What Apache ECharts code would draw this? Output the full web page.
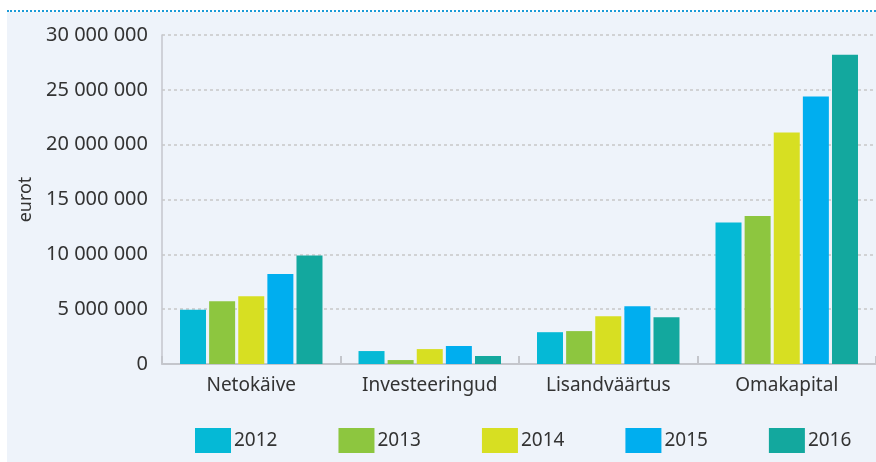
<!DOCTYPE html>
<html>
<head>
<meta charset="utf-8">
<script src="https://cdn.jsdelivr.net/npm/echarts@6/dist/echarts.min.js"></script>
<style>
  html, body { margin: 0; padding: 0; background: #fff; }
  #wrap { position: relative; width: 876px; height: 462px; overflow: hidden; }
  #panel { position: absolute; left: 7px; top: 12px; right: 0; bottom: 0; background: #eef3fa; }
  #dots { position: absolute; left: 7px; top: 10px; right: 0; height: 0; border-top: 2px dotted #1b9bd7; }
  #main { position: absolute; left: 0; top: 0; width: 876px; height: 462px; }
</style>
</head>
<body>
<div id="wrap">
  <div id="panel"></div>
  <div id="dots"></div>
  <div id="main"></div>
</div>
<script>
// andmed
var categories = ['Netokäive', 'Investeeringud', 'Lisandväärtus', 'Omakapital'];
var years = ['2012', '2013', '2014', '2015', '2016'];
var v2012 = [4940000, 1180000, 2900000, 12900000];
var v2013 = [5730000, 360000, 3000000, 13500000];
var v2014 = [6180000, 1360000, 4360000, 21100000];
var v2015 = [8200000, 1640000, 5270000, 24400000];
var v2016 = [9900000, 730000, 4270000, 28200000];
var colors = ['#05b9d6', '#8dc63f', '#d7df22', '#00aeef', '#13a89e'];

var values = [v2012, v2013, v2014, v2015, v2016];
var font = '"Noto Sans", sans-serif';

function spaced(n) {
  return String(n).replace(/\B(?=(\d{3})+(?!\d))/g, ' ');
}

var myChart = echarts.init(document.getElementById('main'));
var series = years.map(function (y, i) {
  return {
    name: y,
    type: 'bar',
    barWidth: 26,
    barGap: '12%',
    itemStyle: { color: colors[i] },
    data: values[i]
  };
});

var option = {
  backgroundColor: 'transparent',
  animation: false,
  color: colors,
  grid: { left: 162, right: 0, top: 35, bottom: 98 },
  legend: {
    data: years,
    top: 423,
    left: 190,
    itemWidth: 36,
    itemHeight: 25,
    itemGap: 61,
    icon: 'rect',
    textStyle: { fontFamily: font, fontSize: 19, color: '#333', padding: [0, 0, 0, -2] }
  },
  xAxis: {
    type: 'category',
    data: categories,
    axisLine: { lineStyle: { color: '#c4c6cc', width: 2 } },
    axisTick: { show: true, inside: true, length: 8, lineStyle: { color: '#c4c6cc', width: 2 } },
    axisLabel: { margin: 12, fontFamily: font, fontSize: 19, color: '#333' }
  },
  yAxis: {
    type: 'value',
    name: 'eurot',
    nameLocation: 'middle',
    nameGap: 124,
    nameTextStyle: { fontFamily: font, fontSize: 18, color: '#333' },
    min: 0,
    max: 30000000,
    interval: 5000000,
    axisLine: { show: true, lineStyle: { color: '#c4c6cc', width: 1.5 } },
    axisTick: { show: false },
    axisLabel: {
      margin: 14,
      fontFamily: font,
      fontSize: 20,
      color: '#333',
      formatter: function (v) { return spaced(v); }
    },
    splitLine: { lineStyle: { color: '#c8c8c8', type: [3, 3], width: 1.5 } }
  },
  series: series
};
myChart.setOption(option);
</script>
</body>
</html>
